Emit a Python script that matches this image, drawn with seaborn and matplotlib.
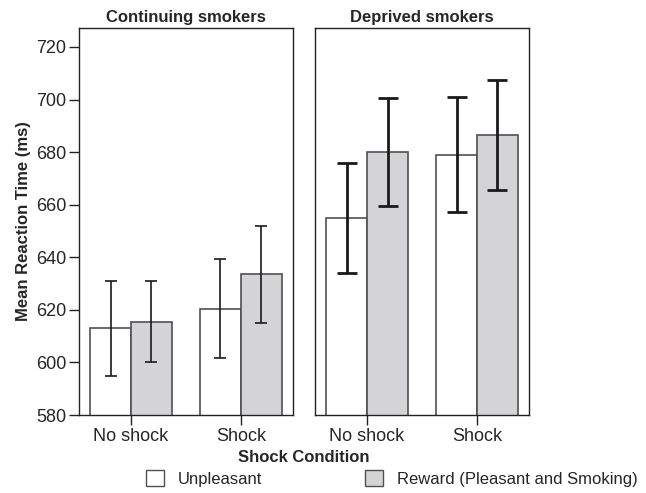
import matplotlib
matplotlib.use("Agg")
import matplotlib.pyplot as plt
import seaborn as sns
import pandas as pd
import numpy as np
from matplotlib.patches import Patch

sns.set_style("white")
plt.rcParams['font.family'] = ['Liberation Sans', 'DejaVu Sans']

groups = ["Continuing smokers", "Deprived smokers"]
conditions = ["No shock", "Shock"]
valences = ["Unpleasant", "Reward (Pleasant and Smoking)"]
cont_unpleasant = [613.0, 620.5]
cont_reward = [615.5, 633.5]
depr_unpleasant = [655.0, 679.0]
depr_reward = [680.0, 686.5]
# error half-widths
cont_unpleasant_err = [18.0, 19.0]
cont_reward_err = [15.5, 18.5]
depr_unpleasant_err = [21.0, 21.8]
depr_reward_err = [20.5, 21.0]

means = {
    groups[0]: {valences[0]: cont_unpleasant, valences[1]: cont_reward},
    groups[1]: {valences[0]: depr_unpleasant, valences[1]: depr_reward},
}
errs = {
    groups[0]: {valences[0]: cont_unpleasant_err, valences[1]: cont_reward_err},
    groups[1]: {valences[0]: depr_unpleasant_err, valences[1]: depr_reward_err},
}

colors = {valences[0]: "#ffffff", valences[1]: "#d4d4d6"}
err_style = {groups[0]: (1.2, 4.5), groups[1]: (2.0, 7.5)}

fig, axes = plt.subplots(1, 2, figsize=(6.46, 4.93), dpi=100, sharey=True)
fig.subplots_adjust(left=0.1223, right=0.8189, top=0.9432, bottom=0.1582, wspace=0.103)

for ax, g in zip(axes, groups):
    rows = []
    for v in valences:
        for c, m in zip(conditions, means[g][v]):
            rows.append({"cond": c, "val": v, "rt": m})
    df = pd.DataFrame(rows)
    sns.barplot(data=df, x="cond", y="rt", hue="val", order=conditions,
                hue_order=valences, palette=colors, edgecolor="#505050",
                linewidth=1.2, width=0.745, errorbar=None, ax=ax, legend=False)
    lw, cs = err_style[g]
    patches = ax.patches
    for i, v in enumerate(valences):
        for j, c in enumerate(conditions):
            p = patches[i * len(conditions) + j]
            xc = p.get_x() + p.get_width() / 2
            ax.errorbar(xc, means[g][v][j], yerr=errs[g][v][j], color="#1a1a1a",
                        capsize=cs, elinewidth=lw, capthick=lw, fmt="none", zorder=5)
    ax.set_ylim(580, 727.2)
    ax.set_xlim(-0.473, 1.473)
    ax.set_title(g, fontsize=12, fontweight="bold", pad=4)
    ax.set_xlabel("")
    ax.set_ylabel("")
    for s in ax.spines.values():
        s.set_visible(True)
        s.set_color("#222222")
        s.set_linewidth(1.0)
    ax.tick_params(axis="x", bottom=True, length=7, width=1, labelsize=13, color="#222222", pad=2)

axes[0].set_yticks(np.arange(580, 721, 20))
axes[0].tick_params(axis="y", left=True, length=7, width=1, labelsize=13, color="#222222", pad=2)
axes[1].tick_params(axis="y", left=False)
axes[0].set_ylabel("Mean Reaction Time (ms)", fontsize=12, fontweight="bold", labelpad=4)

fig.text(0.4706, 0.0715, "Shock Condition", ha="center", va="center", fontsize=12, fontweight="bold")

handles = [Patch(facecolor=colors[v], edgecolor="#505050", linewidth=1.0, label=v) for v in valences]
fig.legend(handles=handles, loc="center left", bbox_to_anchor=(0.2254, 0.029), ncol=2,
           frameon=False, fontsize=12, handlelength=1.1, handleheight=1.1,
           handletextpad=0.8, columnspacing=6.2, borderaxespad=0, borderpad=0)

fig.savefig("out.png", dpi=100)
